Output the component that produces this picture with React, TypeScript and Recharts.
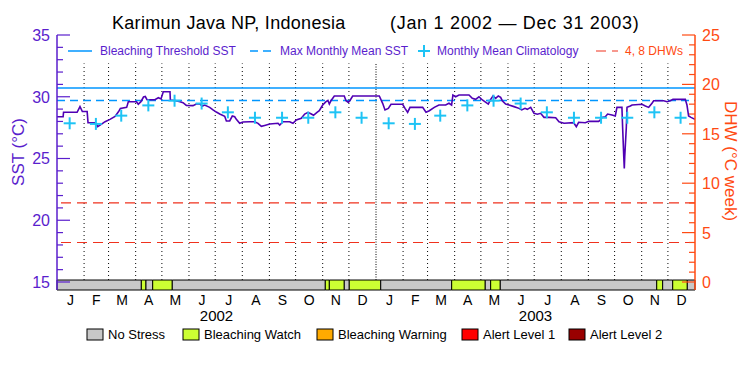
import React from "react";
import {
  ComposedChart, Line, Scatter, XAxis, YAxis, ReferenceLine, ReferenceArea,
} from "recharts";

const PURPLE = "#5a1ecd";
const LINE_PURPLE = "#5000b4";
const ORANGE = "#ff4a12";
const BLUE = "#0096ff";
const CYAN = "#1ec3f5";
const DHW_RED = "#f0321e";
const FONT = '"Liberation Sans", Arial, sans-serif';

// calendar (Jan 1 2002 .. Dec 31 2003), day index from Jan 1 2002
const monthLetters = ["J", "F", "M", "A", "M", "J", "J", "A", "S", "O", "N", "D"];
const monthLengths = [31, 28, 31, 30, 31, 30, 31, 31, 30, 31, 30, 31];
const yearLabels = ["2002", "2003"];

// twice-weekly SST
const sstDays = [
  0, 7, 7.5, 23, 26.3, 29, 34.5, 35.5, 43.5, 46.5, 51, 55, 60.6, 66.4, 70.5, 72.5,
  79.7, 81.6, 91, 93, 96, 99, 101, 103, 112, 116, 119, 121.6, 129.3, 129.7, 135,
  140.7, 144.2, 148, 155.6, 159.4, 163.3, 166.3, 169, 174.7, 178.5, 182.3, 186.2,
  191.9, 193.8, 197.6, 200.6, 203.3, 205.2, 209, 212.8, 220.5, 226.2, 230, 233.8,
  237.6, 243.4, 252.9, 254.8, 258.6, 266.2, 270, 273.8, 279.5, 283.4, 287.2, 291,
  293.5, 297.5, 300.1, 304, 307.8, 310, 311.6, 313.5, 317.3, 328.7, 330.7, 333.3,
  335.6, 338.3, 368.8, 372.6, 375.3, 379.1, 382.2, 395.5, 398.2, 401.2, 403.9,
  418.4, 422.2, 426, 431.7, 437, 444.7, 448.5, 451.5, 453, 456.1, 460, 471.4,
  475.2, 479, 482.8, 486.7, 493.5, 496.2, 498.9, 501.9, 504.9, 507.6, 509.5,
  513.3, 517.2, 522.9, 528.6, 531.7, 535.5, 538.1, 542, 545.8, 549.6, 553.4,
  557.2, 562.9, 570.6, 574.4, 580.1, 591.2, 594.2, 596.9, 604.5, 608.4, 619.8,
  621.7, 623.6, 627.4, 630, 635, 638.8, 640.7, 646.4, 647.2, 648.5, 649.1, 649.6,
  651.4, 652.2, 656, 658, 669.3, 673.2, 677, 680.8, 682.7, 694.1, 698, 701.8,
  704.8, 718.9, 720.8, 722.7, 725.4, 730,
];
const sstValues = [
  28.38, 28.38, 28.74, 28.74, 29.2, 28.8, 28.8, 27.9, 27.9, 27.58, 27.79, 27.98,
  28.17, 28.4, 28.8, 29.06, 29.14, 29.6, 29.6, 29.39, 29.6, 29.98, 30.02, 29.76,
  29.76, 29.92, 29.82, 30.41, 30.41, 29.74, 29.7, 29.6, 29.52, 29.3, 29.28, 29.41,
  29.43, 29.25, 29.33, 29.14, 28.93, 28.76, 28.6, 28.42, 28.04, 28.04, 28.44,
  28.38, 28.17, 27.85, 27.96, 27.98, 27.98, 27.85, 27.6, 27.68, 27.79, 27.85,
  27.71, 27.98, 27.98, 27.85, 28.12, 28.25, 28.6, 28.74, 28.6, 28.5, 28.74, 28.87,
  29.33, 29.6, 29.7, 29.41, 29.68, 30.06, 30.06, 29.68, 29.55, 29.74, 30.06,
  30.06, 29.47, 28.93, 29.06, 29.39, 29.39, 29.06, 28.74, 29.14, 29.14, 28.74,
  28.87, 29.14, 29.33, 29.33, 29.47, 29.33, 30.14, 30.0, 30.14, 30.14, 29.87,
  29.79, 30.0, 29.74, 29.41, 29.79, 30.06, 29.87, 30.06, 29.95, 29.68, 29.41,
  29.33, 29.2, 29.06, 28.93, 29.06, 28.98, 29.14, 28.66, 28.58, 28.66, 28.33,
  28.33, 28.3, 27.98, 27.85, 27.9, 27.58, 27.93, 27.9, 28.01, 28.01, 28.12, 28.33,
  28.38, 28.6, 28.52, 28.44, 29.14, 29.14, 27.5, 25.15, 24.2, 25.15, 27.5, 29.14,
  29.25, 29.33, 29.39, 29.25, 29.14, 29.47, 29.68, 29.68, 29.6, 29.68, 29.79,
  29.79, 29.33, 28.44, 28.33, 28.17,
];

// monthly mean climatology, Jan..Dec
const climMonthly = [27.85, 27.8, 28.47, 29.3, 29.68, 29.45, 28.74, 28.3, 28.3, 28.3, 28.74, 28.3];

const mmm = 29.7;
const bleachingThreshold = 30.7;
const dhwLevels = [4, 8];

// stress level bar segments
const stressFrom = [0, 96.5, 101.8, 109.5, 131.9, 307, 311.6, 328.7, 334.4, 370.4, 451.6, 490, 496.2, 507.2, 686.2, 693, 704.5, 721.2];
const stressTo = [96.5, 101.8, 109.5, 131.9, 307, 311.6, 328.7, 334.4, 370.4, 451.6, 490, 496.2, 507.2, 686.2, 693, 704.5, 721.2, 730];
const stressLevel = [0, 1, 0, 1, 0, 1, 1, 0, 1, 0, 1, 0, 1, 0, 1, 0, 1, 0];

const stressNames = ["No Stress", "Bleaching Watch", "Bleaching Warning", "Alert Level 1", "Alert Level 2"];
const stressColors = ["#c8c8c8", "#ccff33", "#ffaa00", "#ff0000", "#990000"];

const sstTicks = Array.from({ length: 21 }, (_, i) => 15 + i);
const dhwTicks = Array.from({ length: 26 }, (_, i) => i);

const monthStarts: number[] = [];
{
  let d = 0;
  for (let y = 0; y < 2; y++) {
    for (let m = 0; m < 12; m++) {
      monthStarts.push(d);
      d += monthLengths[m];
    }
  }
  monthStarts.push(d);
}
const midDays = monthStarts.slice(0, 24).map((s, i) => (s + monthStarts[i + 1]) / 2);
const yearCenters = [monthStarts[12] / 2, (monthStarts[12] + monthStarts[24]) / 2];

const sstData = sstDays.map((d, i) => ({ day: d, sst: sstValues[i] }));
const climData = midDays.map((d, i) => ({ day: Math.floor(d) - 0.5, clim: climMonthly[i % 12] }));

const BAR_LOW = 14.352;
const BAR_HIGH = 15.16;
const GRID_TOP = 32.7;

function SstTick(props: any) {
  const { x, y, payload } = props;
  const v = payload.value;
  const major = v % 5 === 0;
  return (
    <g>
      <line x1={x} x2={x + (major ? 13 : 6)} y1={y} y2={y} stroke={PURPLE} strokeWidth={1.2} />
      {major && (
        <text x={x - 7} y={y + 6} textAnchor="end" fontSize={16} fill={PURPLE} fontFamily={FONT}>{v}</text>
      )}
    </g>
  );
}

function DhwTick(props: any) {
  const { x, y, payload } = props;
  const v = payload.value;
  const major = v % 5 === 0;
  return (
    <g>
      <line x1={x} x2={x - (major ? 13 : 6)} y1={y} y2={y} stroke={ORANGE} strokeWidth={1.2} />
      {major && (
        <text x={x + 7} y={y + 6} textAnchor="start" fontSize={16} fill={ORANGE} fontFamily={FONT}>{v}</text>
      )}
    </g>
  );
}

function MonthTick(props: any) {
  const { x, y, payload } = props;
  const i = midDays.indexOf(payload.value);
  return (
    <text x={x} y={y + 15} textAnchor="middle" fontSize={14} fill="#000" fontFamily={FONT}>
      {monthLetters[i % 12]}
    </text>
  );
}

function YearTick(props: any) {
  const { x, y, payload } = props;
  const i = yearCenters.indexOf(payload.value);
  return (
    <text x={x} y={y + 11} textAnchor="middle" fontSize={15} fill="#000" fontFamily={FONT}>
      {yearLabels[i]}
    </text>
  );
}

function Cross(props: any) {
  const { cx, cy } = props;
  return (
    <g>
      <line x1={cx - 6} x2={cx + 6} y1={cy} y2={cy} stroke={CYAN} strokeWidth={2} />
      <line x1={cx} x2={cx} y1={cy - 6} y2={cy + 6} stroke={CYAN} strokeWidth={2} />
    </g>
  );
}

export default function App() {
  return (
    <div style={{ position: "absolute", left: 0, top: 0, width: 750, height: 375, background: "#fff" }}>
      <ComposedChart width={750} height={375} margin={{ top: 35, right: 0, bottom: 45, left: 0 }}>
        <XAxis
          xAxisId="top" orientation="top" type="number" dataKey="day" domain={[0, 730]}
          height={0} tick={false} tickLine={false} axisLine={{ stroke: "#000" }} allowDataOverflow
        />
        <XAxis
          type="number" dataKey="day" domain={[0, 730]} ticks={midDays} interval={0}
          height={20} tickSize={0} tickMargin={0} tick={MonthTick}
          axisLine={false} tickLine={false} allowDataOverflow
        />
        <XAxis
          xAxisId="year" type="number" dataKey="day" domain={[0, 730]} ticks={yearCenters} interval={0}
          height={20} tickSize={0} tickMargin={0} tick={YearTick}
          axisLine={false} tickLine={false} allowDataOverflow
        />
        <YAxis
          yAxisId="sst" orientation="left" type="number" width={57}
          domain={[BAR_LOW, 35]} ticks={sstTicks} interval={0}
          tickSize={0} tickMargin={0} tick={SstTick} tickLine={false}
          axisLine={{ stroke: PURPLE, strokeWidth: 1.5 }} allowDataOverflow
        />
        <YAxis
          yAxisId="dhw" orientation="right" type="number" width={55}
          domain={[-0.81, 25]} ticks={dhwTicks} interval={0}
          tickSize={0} tickMargin={0} tick={DhwTick} tickLine={false}
          axisLine={{ stroke: ORANGE, strokeWidth: 1.5 }} allowDataOverflow
        />

        {monthStarts.slice(1, 24).map((d) => (
          <ReferenceLine
            key={`m${d}`} yAxisId="sst"
            segment={[{ x: d, y: BAR_HIGH }, { x: d, y: GRID_TOP }]}
            stroke="#000" strokeWidth={1}
            strokeDasharray={d === 365 ? "1 1.5" : "1 3"}
          />
        ))}

        <ReferenceLine yAxisId="sst" y={bleachingThreshold} stroke={BLUE} strokeWidth={1.5} />
        <ReferenceLine yAxisId="sst" y={mmm} stroke={BLUE} strokeWidth={1.5} strokeDasharray="8 5" />
        {dhwLevels.map((v) => (
          <ReferenceLine key={`dhw${v}`} yAxisId="dhw" y={v} stroke={DHW_RED} strokeWidth={1.2} strokeDasharray="10 6" />
        ))}

        {stressFrom.map((a, i) => (
          <ReferenceArea
            key={`s${i}`} yAxisId="sst" x1={a} x2={stressTo[i]} y1={BAR_LOW} y2={BAR_HIGH}
            fill={stressColors[stressLevel[i]]} fillOpacity={1} stroke="#000" strokeWidth={1}
          />
        ))}

        <Scatter yAxisId="sst" data={climData} dataKey="clim" shape={Cross} isAnimationActive={false} />
        <Line
          yAxisId="sst" data={sstData} dataKey="sst" type="linear" dot={false}
          stroke={LINE_PURPLE} strokeWidth={1.6} isAnimationActive={false}
        />
      </ComposedChart>

      <svg width={750} height={375} style={{ position: "absolute", left: 0, top: 0, pointerEvents: "none" }} fontFamily={FONT}>
        <text x={112} y={29} fontSize={18} fill="#000" letterSpacing={0.3}>Karimun Java NP, Indonesia</text>
        <text x={390} y={29} fontSize={18} fill="#000" letterSpacing={0.7}>(Jan 1 2002 — Dec 31 2003)</text>

        <line x1={68} x2={92} y1={51} y2={51} stroke={BLUE} strokeWidth={1.5} />
        <text x={100} y={55} fontSize={12} fill={PURPLE}>Bleaching Threshold SST</text>
        <line x1={250} x2={273} y1={51} y2={51} stroke={BLUE} strokeWidth={1.5} strokeDasharray="8 5" />
        <text x={280} y={55} fontSize={12} fill={PURPLE}>Max Monthly Mean SST</text>
        <line x1={418} x2={430} y1={51} y2={51} stroke={CYAN} strokeWidth={2} />
        <line x1={424} x2={424} y1={45} y2={57} stroke={CYAN} strokeWidth={2} />
        <text x={437} y={55} fontSize={12} fill={PURPLE}>Monthly Mean Climatology</text>
        <line x1={596} x2={618} y1={51} y2={51} stroke={DHW_RED} strokeWidth={1.2} strokeDasharray="10 6" />
        <text x={625} y={55} fontSize={12} fill={ORANGE}>4, 8 DHWs</text>

        <text transform="translate(24,152) rotate(-90)" textAnchor="middle" fontSize={17} fill={PURPLE}>SST (°C)</text>
        <text transform="translate(725,161) rotate(90)" textAnchor="middle" fontSize={17} fill={ORANGE}>DHW (°C week)</text>

        {stressNames.map((name, i) => {
          const bx = [87, 183, 317, 462, 569][i];
          return (
            <g key={name}>
              <rect x={bx} y={329} width={16} height={11} fill={stressColors[i]} stroke="#000" strokeWidth={1} />
              <text x={bx + 21} y={339} fontSize={13} fill="#000">{name}</text>
            </g>
          );
        })}
      </svg>
    </div>
  );
}
